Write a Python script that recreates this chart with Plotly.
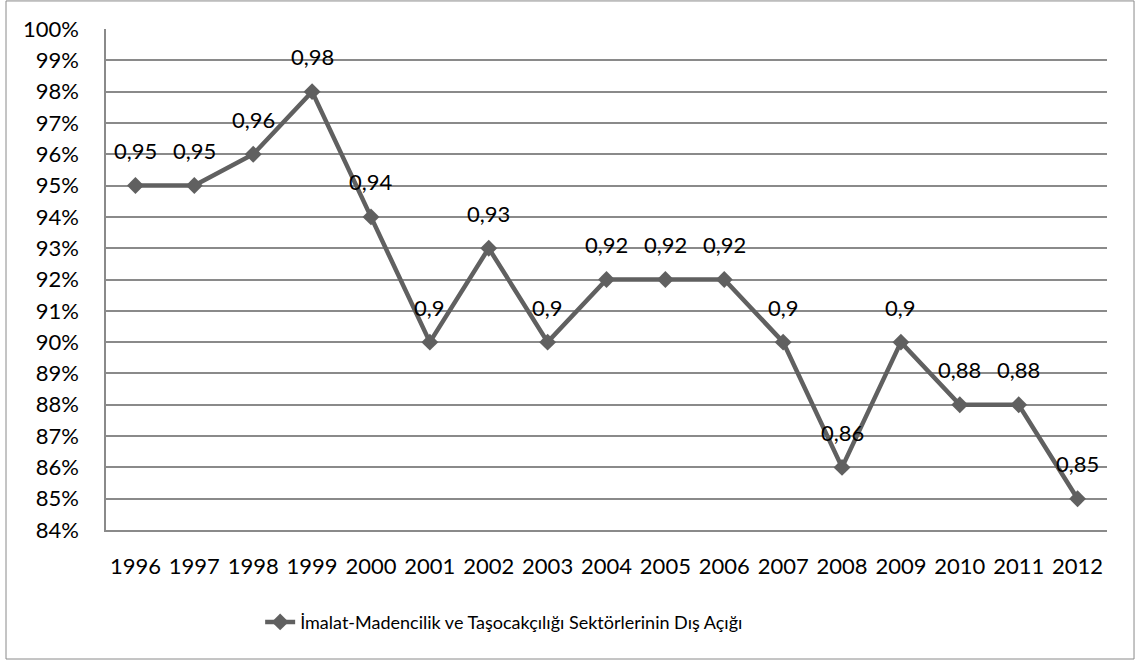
import plotly.graph_objects as go

years = ['1996', '1997', '1998', '1999', '2000', '2001', '2002', '2003', '2004',
         '2005', '2006', '2007', '2008', '2009', '2010', '2011', '2012']
values = [0.95, 0.95, 0.96, 0.98, 0.94, 0.90, 0.93, 0.90, 0.92,
          0.92, 0.92, 0.90, 0.86, 0.90, 0.88, 0.88, 0.85]
labels = ['0,95', '0,95', '0,96', '0,98', '0,94', '0,9', '0,93', '0,9', '0,92',
          '0,92', '0,92', '0,9', '0,86', '0,9', '0,88', '0,88', '0,85']
series_name = 'İmalat-Madencilik ve Taşocakçılığı Sektörlerinin Dış Açığı'

LINE = '#606060'
GRID = '#8a8a8a'
FONT = 'Lato'

fig = go.Figure(go.Scatter(
    x=years, y=values, name=series_name,
    mode='lines+markers',
    line=dict(color=LINE, width=4.5),
    marker=dict(symbol='diamond', size=13, color=LINE),
    showlegend=True,
))

# data labels sit above each point, Excel style
# (category index for x, a string like '1996' would be read as a number)
for i, (v, t) in enumerate(zip(values, labels)):
    fig.add_annotation(x=i, y=v, text=t, showarrow=False,
                       yanchor='middle', yshift=35,
                       font=dict(family=FONT, size=22, color='black'))

# chart border
fig.add_shape(type='rect', xref='paper', yref='paper',
              x0=-0.0999, x1=1.027, y0=-0.2575, y1=1.056,
              line=dict(color=GRID, width=1), layer='below')

fig.update_layout(
    width=1137, height=661,
    margin=dict(l=106, r=30, t=29, b=131),
    paper_bgcolor='white', plot_bgcolor='white',
    separators=',.',
    font=dict(family=FONT, size=22, color='black'),
    xaxis=dict(type='category', range=[-0.5, 16.5],
               showgrid=False, showline=True, linecolor=GRID, linewidth=1.5,
               ticks='', ticklabelstandoff=16,
               tickfont=dict(size=22)),
    yaxis=dict(range=[0.84, 1.0], dtick=0.01, tickformat='.0%',
               showgrid=True, gridcolor=GRID, gridwidth=1.5,
               showline=True, linecolor=GRID, linewidth=1.5,
               zeroline=False, ticks='', ticklabelstandoff=21,
               tickfont=dict(size=22)),
    legend=dict(orientation='h', x=0.154, xanchor='left',
                y=-0.184, yanchor='middle',
                font=dict(family=FONT, size=18, color='black'),
                itemwidth=30),
)

fig.write_html('out.html', config={'displayModeBar': False},
               post_script="document.body.style.margin='0';")
